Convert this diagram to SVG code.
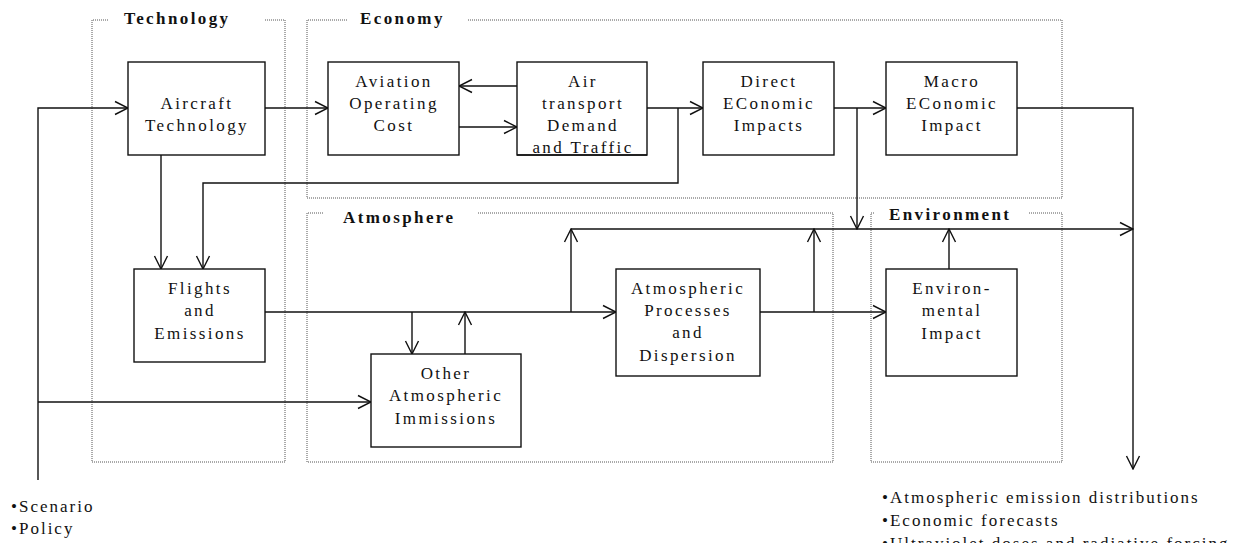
<svg xmlns="http://www.w3.org/2000/svg" width="1239" height="543" viewBox="0 0 1239 543">
<style>
.grp{fill:none;stroke:#555;stroke-width:1;stroke-dasharray:1 1}
.node rect{fill:#fff;stroke:#111;stroke-width:1.4}
.edge{fill:none;stroke:#111;stroke-width:1.4}
.t{font-family:"Liberation Serif","Times New Roman",serif;font-size:17px;letter-spacing:2.4px;fill:#111;text-anchor:middle}
.title{font-family:"Liberation Serif","Times New Roman",serif;font-size:17px;font-weight:bold;letter-spacing:2.4px;fill:#111}
.note{font-family:"Liberation Serif","Times New Roman",serif;font-size:17px;letter-spacing:2px;fill:#111}
.c path{fill:none;stroke:#111;stroke-width:1.4}
</style>
<defs>
<marker id="arr" viewBox="-15 -8 16 16" refX="0" refY="0" markerWidth="16" markerHeight="16" markerUnits="userSpaceOnUse" orient="auto">
<path d="M-13,-6.5 L0,0 L-13,6.5" fill="none" stroke="#111" stroke-width="1.4"/>
</marker>
</defs>
<rect width="1239" height="543" fill="#fff"/>
<g id="group-technology">
<path class="grp" d="M108,20 H92 V462 H285 V20 H265"/>
<text class="title" x="124" y="24">Technology</text>
</g>
<g id="group-economy">
<path class="grp" d="M347,20 H307 V198 H1062 V20 H468"/>
<text class="title" x="360" y="24">Economy</text>
</g>
<g id="group-atmosphere">
<path class="grp" d="M323,213 H307 V462 H833 V213 H477"/>
<text class="title" x="343" y="223">Atmosphere</text>
</g>
<g id="group-environment">
<path class="grp" d="M874,213 H871 V462 H1062 V213 H1028"/>
<text class="title" x="889" y="220">Environment</text>
</g>
<g id="connectors" class="c">
<path d="M38,480 V108 H128" marker-end="url(#arr)"/>
<path d="M38,402 H371" marker-end="url(#arr)"/>
<path d="M265,108 H328" marker-end="url(#arr)"/>
<path d="M517,86 H459" marker-end="url(#arr)"/>
<path d="M459,127 H517" marker-end="url(#arr)"/>
<path d="M647,108 H703" marker-end="url(#arr)"/>
<path d="M678,108 V183 H203 V269" marker-end="url(#arr)"/>
<path d="M161,152 V269" marker-end="url(#arr)"/>
<path d="M834,108 H886" marker-end="url(#arr)"/>
<path d="M857,108 V229" marker-end="url(#arr)"/>
<path d="M1017,108 H1133 V469" marker-end="url(#arr)"/>
<path d="M571,229 H1133" marker-end="url(#arr)"/>
<path d="M571,312 V229" marker-end="url(#arr)"/>
<path d="M814,312 V229" marker-end="url(#arr)"/>
<path d="M265,312 H616" marker-end="url(#arr)"/>
<path d="M412,312 V354" marker-end="url(#arr)"/>
<path d="M465,354 V312" marker-end="url(#arr)"/>
<path d="M760,312 H886" marker-end="url(#arr)"/>
<path d="M949,269 V229" marker-end="url(#arr)"/>
</g>
<g id="aircraft-technology" class="node">
<rect x="128" y="62" width="137" height="93"/>
<text class="t" x="197" y="109">Aircraft</text>
<text class="t" x="197" y="131">Technology</text>
</g>
<g id="aviation-operating-cost" class="node">
<rect x="328" y="62" width="131" height="93"/>
<text class="t" x="394" y="87">Aviation</text>
<text class="t" x="394" y="109">Operating</text>
<text class="t" x="394" y="131">Cost</text>
</g>
<g id="air-transport-demand" class="node">
<rect x="517" y="62" width="130" height="93"/>
<text class="t" x="583" y="87">Air</text>
<text class="t" x="583" y="109">transport</text>
<text class="t" x="583" y="131">Demand</text>
<text class="t" x="583" y="153">and Traffic</text>
<path class="edge" d="M517,155 H647"/>
</g>
<g id="direct-economic-impacts" class="node">
<rect x="703" y="62" width="131" height="93"/>
<text class="t" x="769" y="87">Direct</text>
<text class="t" x="769" y="109">EConomic</text>
<text class="t" x="769" y="131">Impacts</text>
</g>
<g id="macro-economic-impact" class="node">
<rect x="886" y="62" width="131" height="93"/>
<text class="t" x="952" y="87">Macro</text>
<text class="t" x="952" y="109">EConomic</text>
<text class="t" x="952" y="131">Impact</text>
</g>
<g id="flights-and-emissions" class="node">
<rect x="134" y="269" width="131" height="93"/>
<text class="t" x="200" y="294">Flights</text>
<text class="t" x="200" y="316">and</text>
<text class="t" x="200" y="339">Emissions</text>
</g>
<g id="other-atmospheric-immissions" class="node">
<rect x="371" y="354" width="150" height="93"/>
<text class="t" x="446" y="379">Other</text>
<text class="t" x="446" y="401">Atmospheric</text>
<text class="t" x="446" y="424">Immissions</text>
</g>
<g id="atmospheric-processes" class="node">
<rect x="616" y="269" width="144" height="107"/>
<text class="t" x="688" y="294">Atmospheric</text>
<text class="t" x="688" y="316">Processes</text>
<text class="t" x="688" y="338">and</text>
<text class="t" x="688" y="361">Dispersion</text>
</g>
<g id="environmental-impact" class="node">
<rect x="886" y="269" width="131" height="107"/>
<text class="t" x="952" y="294">Environ-</text>
<text class="t" x="952" y="316">mental</text>
<text class="t" x="952" y="339">Impact</text>
</g>
<g id="inputs">
<text class="note" x="11" y="512">•Scenario</text>
<text class="note" x="11" y="534">•Policy</text>
</g>
<g id="outputs">
<text class="note" x="882" y="503">•Atmospheric emission distributions</text>
<text class="note" x="882" y="526">•Economic forecasts</text>
<text class="note" x="882" y="549">•Ultraviolet doses and radiative forcing</text>
</g>
</svg>
